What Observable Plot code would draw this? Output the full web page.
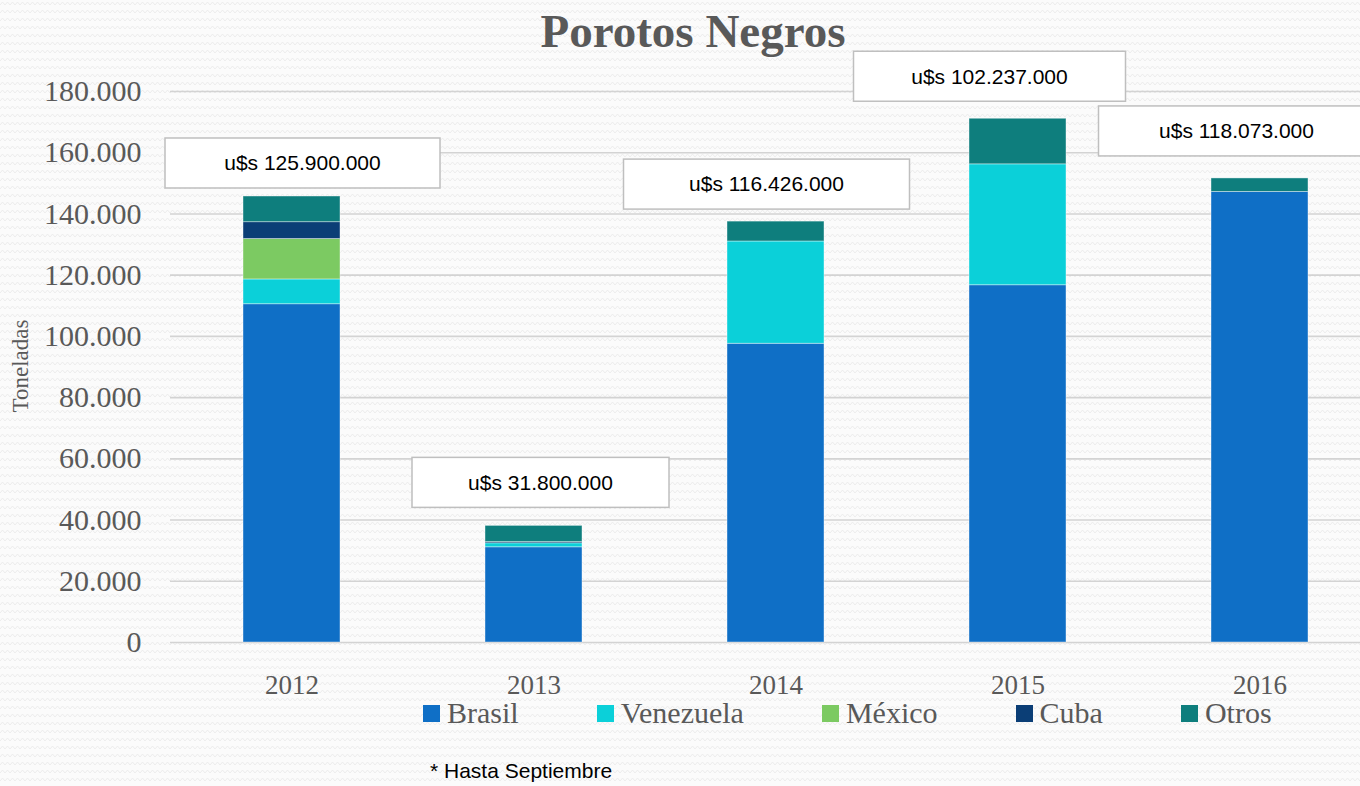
<!DOCTYPE html>
<html>
<head>
<meta charset="utf-8">
<script src="https://cdn.jsdelivr.net/npm/d3@7"></script>
<script src="https://cdn.jsdelivr.net/npm/@observablehq/plot@0.6"></script>
<style>
  html, body { margin: 0; padding: 0; }
  body {
    width: 1360px; height: 786px; overflow: hidden;
    background-color: #fbfbfb;
    background-image: url("data:image/svg+xml;utf8,<svg xmlns='http://www.w3.org/2000/svg' width='10' height='8'><path d='M0 5 L2.5 2 L5 5 L7.5 2 L10 5' stroke='%23ececec' stroke-width='1' fill='none'/></svg>");
  }
  #wrap { position: relative; width: 1360px; height: 786px; }
  #chart { position: absolute; left: 0; top: 0; }
  #title {
    position: absolute; left: 0; width: 1386px; top: 4px; text-align: center;
    font-family: "Liberation Serif", serif; font-weight: bold; font-size: 47px; color: #595959;
  }
  #ylabel {
    position: absolute; left: 21px; top: 366px;
    transform: translate(-50%, -50%) rotate(-90deg);
    font-family: "Liberation Serif", serif; font-size: 23px; color: #595959; white-space: nowrap;
  }
  #legend {
    position: absolute; left: 423px; top: 696px; display: flex; gap: 78px;
    font-family: "Liberation Serif", serif; font-size: 30px; color: #595959;
  }
  #legend .item { display: flex; align-items: center; gap: 7px; }
  #legend .sw { width: 17px; height: 17px; display: inline-block; }
  #note {
    position: absolute; left: 430px; top: 759px;
    font-family: "Liberation Sans", sans-serif; font-size: 21px; color: #000;
  }
</style>
</head>
<body>
<div id="wrap">
  <div id="chart"></div>
  <div id="title">Porotos Negros</div>
  <div id="ylabel">Toneladas</div>
  <div id="legend"></div>
  <div id="note">* Hasta Septiembre</div>
</div>
<script>
// ---- data ----
const years = ["2012", "2013", "2014", "2015", "2016"];
const seriesNames = ["Brasil", "Venezuela", "México", "Cuba", "Otros"];
const brasil    = [110500, 31100, 97600, 116700, 147200];
const venezuela = [8100, 1300, 33400, 39500, 0];
const mexico    = [13200, 0, 0, 0, 0];
const cuba      = [5500, 400, 0, 0, 0];
const otros     = [8400, 5300, 6500, 14900, 4400];
const valueLabels = ["u$s 125.900.000", "u$s 31.800.000", "u$s 116.426.000", "u$s 102.237.000", "u$s 118.073.000"];
const yTicks = [0, 20000, 40000, 60000, 80000, 100000, 120000, 140000, 160000, 180000];

// ---- styles / layout (separate from data) ----
const colors = ["#0f6fc6", "#0bd0d9", "#7cca62", "#0b3e76", "#0e7e7d"];
const labelDx = [11, 7, -9, -28, -23];
const labelDy = [-33, -43, -37, -42, -47];
const labelBoxW = [275, 257, 286, 272, 276];
const labelBoxH = 50;

const seriesValues = [brasil, venezuela, mexico, cuba, otros];
const rows = [];
years.forEach((yr, i) => {
  seriesNames.forEach((s, j) => rows.push({year: yr, country: s, value: seriesValues[j][i]}));
});
const totals = years.map((yr, i) => ({year: yr, total: seriesValues.reduce((a, arr) => a + arr[i], 0), label: valueLabels[i], i}));

const locale = d3.formatLocale({decimal: ",", thousands: ".", grouping: [3], currency: ["", ""]});
const fmt = locale.format(",d");

function labelBoxes(index, scales) {
  const g = d3.create("svg:g");
  totals.forEach((d) => {
    const cx = scales.x(d.year) + scales.x.bandwidth() / 2 + labelDx[d.i];
    const cy = scales.y(d.total) + labelDy[d.i];
    const w = labelBoxW[d.i];
    g.append("rect")
      .attr("x", cx - w / 2).attr("y", cy - labelBoxH / 2)
      .attr("width", w).attr("height", labelBoxH)
      .attr("fill", "#ffffff").attr("stroke", "#bfbfbf").attr("stroke-width", 1.5);
    g.append("text")
      .attr("x", cx).attr("y", cy).attr("dy", "0.35em")
      .attr("text-anchor", "middle")
      .attr("font-family", "Liberation Sans, sans-serif").attr("font-size", 21)
      .attr("fill", "#000000")
      .text(d.label);
  });
  return g.node();
}

const chart = Plot.plot({
  width: 1360,
  height: 700,
  marginLeft: 170,
  marginRight: 0,
  marginTop: 91,
  marginBottom: 58,
  style: {background: "transparent", overflow: "visible"},
  x: {domain: years, range: [170, 1381], paddingInner: 0.6, paddingOuter: 0.3, label: null},
  y: {domain: [0, 180000], label: null},
  color: {domain: seriesNames, range: colors},
  marks: [
    Plot.gridY(yTicks, {stroke: "#d3d3d3", strokeWidth: 1.6, strokeOpacity: 1}),
    Plot.barY(rows, {x: "year", y: "value", fill: "country", stroke: "#ffffff", strokeWidth: 0.8, strokeOpacity: 0.5}),
    Plot.axisY({ticks: yTicks, tickFormat: fmt, tickSize: 0, tickPadding: 29, fontSize: 30, fill: "#595959", fontFamily: "Liberation Serif, serif", label: null}),
    Plot.axisX({tickSize: 0, tickPadding: 32, fontSize: 27, fill: "#595959", fontFamily: "Liberation Serif, serif", label: null}),
    labelBoxes
  ]
});
document.getElementById("chart").appendChild(chart);

// legend
const legend = document.getElementById("legend");
seriesNames.forEach((s, j) => {
  const item = document.createElement("div");
  item.className = "item";
  const sw = document.createElement("span");
  sw.className = "sw";
  sw.style.background = colors[j];
  const t = document.createElement("span");
  t.textContent = s;
  item.appendChild(sw); item.appendChild(t);
  legend.appendChild(item);
});
</script>
</body>
</html>
